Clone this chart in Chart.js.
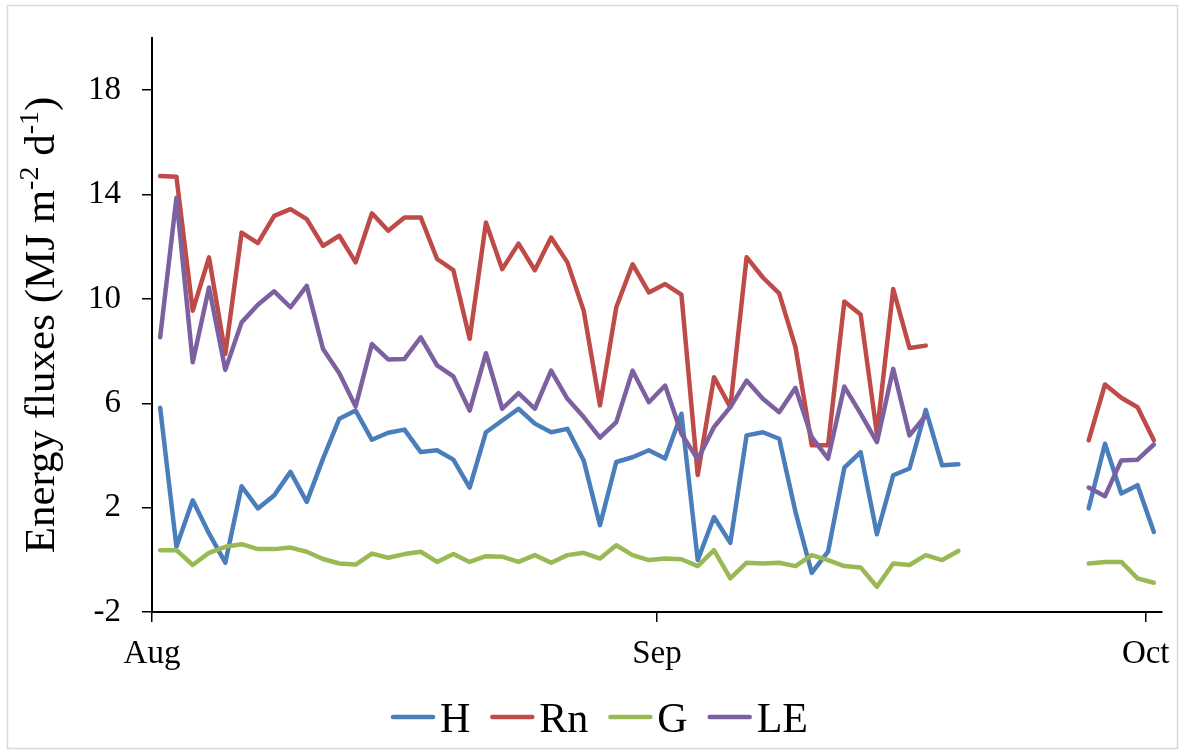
<!DOCTYPE html>
<html>
<head>
<meta charset="utf-8">
<title>Energy fluxes</title>
<script src="https://cdn.jsdelivr.net/npm/chart.js@4.4.1/dist/chart.umd.min.js"></script>
<style>
  html, body { margin: 0; padding: 0; background: #fff; }
</style>
</head>
<body>
<canvas id="fluxChart" width="1184" height="754"></canvas>
<script>
// daily energy balance terms, Aug 1 .. Oct 1 (null = no data that day)
const monthNames = ['Aug', 'Sep', 'Oct'];
const monthDays = [31, 30, 1];
const yTicks = [-2, 2, 6, 10, 14, 18];
const seriesNames = ['H', 'Rn', 'G', 'LE'];
const seriesColors = ['#4A7EBB', '#BE4B48', '#98B954', '#7D60A0'];

const H = [
  5.83, 0.50, 2.28, 1.01, -0.11, 2.82, 1.97, 2.47, 3.37, 2.22,
  3.88, 5.41, 5.72, 4.60, 4.87, 4.99, 4.13, 4.20, 3.84, 2.77,
  4.89, 5.34, 5.79, 5.22, 4.89, 5.02, 3.81, 1.33, 3.75, 3.93,
  4.20, 3.88, 5.60, -0.01, 1.64, 0.65, 4.77, 4.89, 4.64, 1.84,
  -0.50, 0.31, 3.53, 4.13, 0.98, 3.24, 3.50, 5.75, 3.62, 3.66,
  null, null, null, null, null, null, null, 1.97, 4.45, 2.54,
  2.86, 1.07
];
const Rn = [
  14.71, 14.68, 9.55, 11.59, 7.89, 12.54, 12.14, 13.18, 13.44, 13.06,
  12.03, 12.42, 11.40, 13.28, 12.61, 13.12, 13.12, 11.53, 11.10, 8.47,
  12.93, 11.14, 12.12, 11.10, 12.35, 11.40, 9.55, 5.92, 9.68, 11.33,
  10.25, 10.57, 10.16, 3.25, 7.00, 5.85, 11.60, 10.82, 10.21, 8.15,
  4.39, 4.39, 9.90, 9.40, 4.83, 10.38, 8.12, 8.21, null, null,
  null, null, null, null, null, null, null, 4.58, 6.72, 6.21,
  5.85, 4.58
];
const G = [
  0.37, 0.37, -0.20, 0.27, 0.50, 0.60, 0.41, 0.41, 0.47, 0.31,
  0.03, -0.14, -0.18, 0.24, 0.08, 0.22, 0.31, -0.08, 0.22, -0.08,
  0.14, 0.12, -0.08, 0.18, -0.11, 0.18, 0.27, 0.05, 0.56, 0.18,
  -0.01, 0.05, 0.02, -0.24, 0.37, -0.71, -0.11, -0.14, -0.11, -0.24,
  0.18, -0.01, -0.24, -0.29, -1.03, -0.14, -0.20, 0.18, -0.01, 0.34,
  null, null, null, null, null, null, null, -0.14, -0.08, -0.08,
  -0.71, -0.88
];
const LE = [
  8.53, 13.88, 7.57, 10.44, 7.28, 9.10, 9.78, 10.29, 9.68, 10.50,
  8.08, 7.15, 5.88, 8.27, 7.68, 7.70, 8.53, 7.45, 7.03, 5.72,
  7.92, 5.79, 6.39, 5.79, 7.25, 6.17, 5.47, 4.68, 5.28, 7.25,
  6.04, 6.68, 4.83, 3.85, 5.09, 5.85, 6.87, 6.17, 5.66, 6.59,
  4.70, 3.88, 6.64, 5.60, 4.51, 7.32, 4.77, 5.53, null, null,
  null, null, null, null, null, null, null, 2.77, 2.44, 3.81,
  3.84, 4.42
];

const SERIF = "'Liberation Serif', 'Times New Roman', serif";

// one category per day: "Aug 1", "Aug 2", ...
const dayLabels = [];
monthNames.forEach((m, k) => {
  for (let d = 1; d <= monthDays[k]; d++) dayLabels.push(m + ' ' + d);
});
const isMonthStart = i => dayLabels[i] && dayLabels[i].split(' ')[1] === '1';

// white page with a thin grey frame
const frame = {
  id: 'frame',
  beforeDraw(chart) {
    const ctx = chart.ctx;
    ctx.save();
    ctx.fillStyle = '#fff';
    ctx.fillRect(0, 0, chart.width, chart.height);
    ctx.strokeStyle = '#d9d9d9';
    ctx.lineWidth = 1.5;
    ctx.strokeRect(7.5, 5.5, 1170, 743);
    ctx.restore();
  }
};

// rotated y title with superscript units
const yTitle = {
  id: 'yTitle',
  afterDraw(chart) {
    const ctx = chart.ctx;
    const big = 43, small = 28;
    const parts = [
      ['Energy fluxes (MJ m', false],
      ['-2', true],
      [' d', false],
      ['-1', true],
      [')', false]
    ];
    ctx.save();
    ctx.fillStyle = '#000';
    ctx.textAlign = 'left';
    ctx.textBaseline = 'alphabetic';
    let total = 0;
    parts.forEach(([t, sup]) => {
      ctx.font = (sup ? small : big) + 'px ' + SERIF;
      total += ctx.measureText(t).width;
    });
    ctx.translate(54, 325);
    ctx.rotate(-Math.PI / 2);
    let x = -total / 2;
    parts.forEach(([t, sup]) => {
      ctx.font = (sup ? small : big) + 'px ' + SERIF;
      ctx.fillText(t, x, sup ? -big * 0.38 : 0);
      x += ctx.measureText(t).width;
    });
    ctx.restore();
  }
};

// legend row under the axis: short line then series name
const lineLegend = {
  id: 'lineLegend',
  afterDraw(chart) {
    const ctx = chart.ctx;
    const sample = 44, gap = 5, spacing = 20, y = 717;
    ctx.save();
    ctx.font = '42px ' + SERIF;
    ctx.fillStyle = '#000';
    ctx.textBaseline = 'alphabetic';
    let total = 0;
    seriesNames.forEach((n, i) => {
      total += sample + gap + ctx.measureText(n).width + (i ? spacing : 0);
    });
    let x = 599.5 - total / 2;
    seriesNames.forEach((n, i) => {
      ctx.strokeStyle = seriesColors[i];
      ctx.lineWidth = 4.5;
      ctx.lineCap = 'round';
      ctx.beginPath();
      ctx.moveTo(x + 2, y);
      ctx.lineTo(x + sample - 2, y);
      ctx.stroke();
      ctx.fillText(n, x + sample + gap, y + 15);
      x += sample + gap + ctx.measureText(n).width + spacing;
    });
    ctx.restore();
  }
};

const seriesData = [H, Rn, G, LE];

new Chart(document.getElementById('fluxChart'), {
  type: 'line',
  data: {
    labels: dayLabels,
    datasets: seriesNames.map((name, i) => ({
      label: name,
      data: seriesData[i],
      borderColor: seriesColors[i],
      backgroundColor: seriesColors[i],
      order: seriesNames.length - 1 - i,
      spanGaps: false
    }))
  },
  options: {
    responsive: false,
    animation: false,
    devicePixelRatio: 1,
    layout: { padding: { top: 38, right: 22, left: 0, bottom: 0 } },
    plugins: { legend: { display: false }, tooltip: { enabled: false } },
    elements: {
      point: { radius: 0 },
      line: { borderWidth: 4.5, borderJoinStyle: 'round', borderCapStyle: 'round', tension: 0 }
    },
    scales: {
      x: {
        type: 'category',
        offset: true,
        grid: {
          offset: true,
          drawOnChartArea: false,
          tickLength: 10,
          lineWidth: 1.5,
          color: c => (c.index !== undefined && isMonthStart(c.index)) ? '#000' : 'rgba(0,0,0,0)'
        },
        border: { display: true, color: '#000', width: 2 },
        ticks: {
          autoSkip: false,
          maxRotation: 0,
          labelOffset: -8.14,
          padding: 13,
          color: '#000',
          font: { family: SERIF, size: 33 },
          callback(value, index) {
            return isMonthStart(index) ? dayLabels[index].split(' ')[0] : '';
          }
        },
        afterFit(s) {
          s.height = 142;
          s.paddingLeft = 0;
          s.paddingRight = 0;
        }
      },
      y: {
        min: -2,
        max: 20,
        afterBuildTicks(s) {
          s.ticks = yTicks.map(v => ({ value: v }));
        },
        grid: { drawOnChartArea: false, tickLength: 10, lineWidth: 1.5, color: '#000' },
        border: { display: true, color: '#000', width: 2 },
        ticks: {
          padding: 21,
          color: '#000',
          font: { family: SERIF, size: 33 }
        },
        afterFit(s) {
          s.width = 152;
          s.paddingTop = 0;
          s.paddingBottom = 0;
        }
      }
    }
  },
  plugins: [frame, yTitle, lineLegend]
});
</script>
</body>
</html>
